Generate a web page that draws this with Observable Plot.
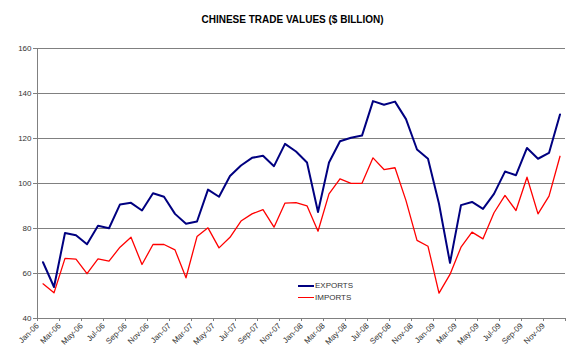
<!DOCTYPE html>
<html>
<head>
<meta charset="utf-8">
<script src="https://cdn.jsdelivr.net/npm/d3@7"></script>
<script src="https://cdn.jsdelivr.net/npm/@observablehq/plot@0.6"></script>
<style>
  body { margin: 0; background: #fff; font-family: Arial, "Liberation Sans", sans-serif; }
  #wrap { position: relative; width: 580px; height: 356px; }
  #title { position: absolute; left: 0; top: 14px; width: 585px; text-align: center; font-weight: bold; font-size: 10px; color: #000; }
  #legend { position: absolute; left: 298px; top: 280px; font-size: 8px; color: #333; line-height: 12px; }
  #legend .sw { display: inline-block; width: 16px; vertical-align: middle; margin-right: 1px; }
</style>
</head>
<body>
<div id="wrap">
  <div id="chart"></div>
  <div id="title">CHINESE TRADE VALUES ($ BILLION)</div>
  <div id="legend"></div>
</div>
<script>
const months = ["Jan-06","Feb-06","Mar-06","Apr-06","May-06","Jun-06","Jul-06","Aug-06","Sep-06","Oct-06","Nov-06","Dec-06",
"Jan-07","Feb-07","Mar-07","Apr-07","May-07","Jun-07","Jul-07","Aug-07","Sep-07","Oct-07","Nov-07","Dec-07",
"Jan-08","Feb-08","Mar-08","Apr-08","May-08","Jun-08","Jul-08","Aug-08","Sep-08","Oct-08","Nov-08","Dec-08",
"Jan-09","Feb-09","Mar-09","Apr-09","May-09","Jun-09","Jul-09","Aug-09","Sep-09","Oct-09","Nov-09","Dec-09"];

const exportsVals = [65,54,78,77,73,81.2,80.1,90.7,91.4,88,95.7,94.1,86.5,82.1,83.1,97.3,94.1,103.3,108,111.4,112.3,107.7,117.6,114.2,109.3,87.3,109.3,118.8,120.3,121.3,136.6,135,136.4,128.6,115.1,111,91,64.7,90.4,91.8,88.7,95.4,105.3,103.7,115.8,111,113.6,130.7];

const importsVals = [55.4,51.4,66.7,66.4,59.9,66.5,65.5,71.7,76.1,64,72.9,72.9,70.5,58.1,76.4,80.3,71.4,76.1,83.3,86.5,88.4,80.6,91.3,91.5,90.1,78.8,95.4,102.1,100.1,100.1,111.4,106.2,107,92.4,74.7,72.1,51.3,59.6,71.7,78.4,75.4,87,94.7,88,102.8,86.5,94.4,112.1];

const seriesNames = ["EXPORTS", "IMPORTS"];
const seriesColors = ["#000080", "#ff0000"];
const seriesWidths = [2, 1.3];
const yTicks = [40, 60, 80, 100, 120, 140, 160];

const data = [];
months.forEach((m, i) => {
  data.push({i, month: m, series: "EXPORTS", value: exportsVals[i]});
  data.push({i, month: m, series: "IMPORTS", value: importsVals[i]});
});

const xTicks = d3.range(0, months.length + 1, 2);

const chart = Plot.plot({
  width: 580,
  height: 356,
  marginLeft: 37,
  marginRight: 15,
  marginTop: 48,
  marginBottom: 38,
  style: {fontFamily: "Arial, 'Liberation Sans', sans-serif", fontSize: "8px", color: "#333", background: "#fff"},
  x: {type: "linear", domain: [0, months.length]},
  y: {domain: [40, 160]},
  marks: [
    Plot.gridY(yTicks, {stroke: "#808080", strokeOpacity: 1}),
    Plot.ruleX([0], {stroke: "#808080"}),
    Plot.ruleY([40], {stroke: "#808080"}),
    Plot.axisY(yTicks, {tickSize: 4, tickPadding: 2, stroke: "#808080", fill: "#333", label: null}),
    Plot.axisX(xTicks, {tickSize: 3, tickPadding: 3, tickRotate: -45, stroke: "#808080", fill: "#333",
      tickFormat: i => months[i] ?? "", label: null}),
    ...seriesNames.map((s, k) => Plot.line(data.filter(d => d.series === s), {
      x: d => d.i + 0.5, y: "value", stroke: seriesColors[k], strokeWidth: seriesWidths[k]
    }))
  ]
});
document.getElementById("chart").appendChild(chart);

const legend = document.getElementById("legend");
seriesNames.forEach((s, k) => {
  const row = document.createElement("div");
  row.innerHTML = `<span class="sw" style="border-top:${seriesWidths[k]}px solid ${seriesColors[k]}"></span>${s}`;
  legend.appendChild(row);
});
</script>
</body>
</html>
